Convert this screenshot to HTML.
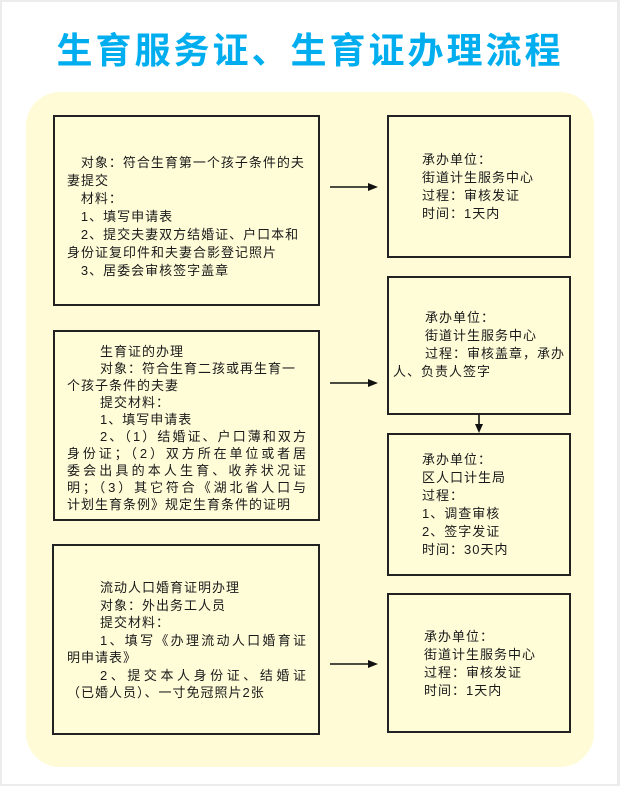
<!DOCTYPE html>
<html><head><meta charset="utf-8">
<style>
html,body{margin:0;padding:0;}
body{width:620px;height:786px;position:relative;background:#fff;overflow:hidden;
font-family:"Liberation Sans","Noto Sans CJK SC",sans-serif;color:#1a1a1a;}
.edge{position:absolute;background:#ececec;}
.title{position:absolute;left:0;width:620px;top:29px;text-align:center;font-size:36px;font-weight:bold;color:#00aeef;letter-spacing:3px;line-height:44px;}
.panel{position:absolute;left:26px;top:92px;width:568px;height:675px;background:#fffbd6;border-radius:34px;}
.box{position:absolute;border:2px solid #222;background:#fffcd8;box-sizing:border-box;}
.t{position:absolute;font-size:13px;letter-spacing:1px;}
.t div{height:18px;line-height:18px;white-space:nowrap;}
.t.s17 div{height:17px;line-height:17px;}
.t.s175 div{height:17.5px;line-height:17.5px;}
</style></head><body>
<div class="edge" style="left:0;top:0;width:620px;height:2px;"></div>
<div class="edge" style="left:617px;top:0;width:3px;height:786px;"></div>
<div class="edge" style="left:0;top:0;width:2px;height:786px;"></div>
<div class="edge" style="left:0;top:784px;width:620px;height:2px;"></div>
<div class="title">生育服务证、生育证办理流程</div>
<div class="panel"></div>

<div class="box" style="left:53px;top:115px;width:267px;height:191px;"></div>
<div class="t" style="left:67px;top:154px;width:245px;">
<div>&nbsp;&nbsp;&nbsp;对象：符合生育第一个孩子条件的夫</div>
<div>妻提交</div>
<div>&nbsp;&nbsp;&nbsp;材料：</div>
<div>&nbsp;&nbsp;&nbsp;1、填写申请表</div>
<div>&nbsp;&nbsp;&nbsp;2、提交夫妻双方结婚证、户口本和</div>
<div>身份证复印件和夫妻合影登记照片</div>
<div>&nbsp;&nbsp;&nbsp;3、居委会审核签字盖章</div>
</div>

<div class="box" style="left:53px;top:330px;width:267px;height:191px;"></div>
<div class="t s17" style="left:67px;top:343px;width:240px;">
<div style="padding-left:33px">生育证的办理</div>
<div style="padding-left:33px">对象：符合生育二孩或再生育一</div>
<div>个孩子条件的夫妻</div>
<div style="padding-left:33px">提交材料：</div>
<div style="padding-left:33px">1、填写申请表</div>
<div style="padding-left:33px;text-align:justify;text-align-last:justify;">2、（1）结婚证、户口薄和双方</div>
<div style="text-align:justify;text-align-last:justify;">身份证；（2）双方所在单位或者居</div>
<div style="text-align:justify;text-align-last:justify;">委会出具的本人生育、收养状况证</div>
<div style="text-align:justify;text-align-last:justify;">明；（3）其它符合《湖北省人口与</div>
<div>计划生育条例》规定生育条件的证明</div>
</div>

<div class="box" style="left:52px;top:544px;width:268px;height:191px;"></div>
<div class="t s175" style="left:67px;top:579px;width:240px;">
<div style="padding-left:33px">流动人口婚育证明办理</div>
<div style="padding-left:33px">对象：外出务工人员</div>
<div style="padding-left:33px">提交材料：</div>
<div style="padding-left:33px;text-align:justify;text-align-last:justify;">1、填写《办理流动人口婚育证</div>
<div>明申请表》</div>
<div style="padding-left:33px;text-align:justify;text-align-last:justify;">2、提交本人身份证、结婚证</div>
<div>（已婚人员）、一寸免冠照片2张</div>
</div>

<div class="box" style="left:387px;top:115px;width:184px;height:143px;"></div>
<div class="t" style="left:422px;top:151px;">
<div>承办单位：</div><div>街道计生服务中心</div><div>过程：审核发证</div><div>时间：1天内</div>
</div>

<div class="box" style="left:387px;top:276px;width:184px;height:139px;"></div>
<div class="t" style="left:393px;top:309px;width:172px;">
<div style="padding-left:32px">承办单位：</div><div style="padding-left:32px">街道计生服务中心</div><div style="padding-left:32px">过程：审核盖章，承办</div><div>人、负责人签字</div>
</div>

<div class="box" style="left:387px;top:433px;width:184px;height:143px;"></div>
<div class="t" style="left:422px;top:451px;">
<div>承办单位：</div><div>区人口计生局</div><div>过程：</div><div>1、调查审核</div><div>2、签字发证</div><div>时间：30天内</div>
</div>

<div class="box" style="left:387px;top:593px;width:184px;height:140px;"></div>
<div class="t" style="left:424px;top:628px;">
<div>承办单位：</div><div>街道计生服务中心</div><div>过程：审核发证</div><div>时间：1天内</div>
</div>

<svg width="620" height="786" style="position:absolute;left:0;top:0;">
<g stroke="#111" stroke-width="1.6" fill="#111">
<line x1="330" y1="187" x2="370" y2="187"/><polygon points="378,187 368,183 368,191" stroke="none"/>
<line x1="330" y1="383" x2="370" y2="383"/><polygon points="378,383 368,379 368,387" stroke="none"/>
<line x1="330" y1="664" x2="370" y2="664"/><polygon points="378,664 368,660 368,668" stroke="none"/>
<line x1="479" y1="415" x2="479" y2="426"/><polygon points="479,433 475,424 483,424" stroke="none"/>
</g>
</svg>
</body></html>
